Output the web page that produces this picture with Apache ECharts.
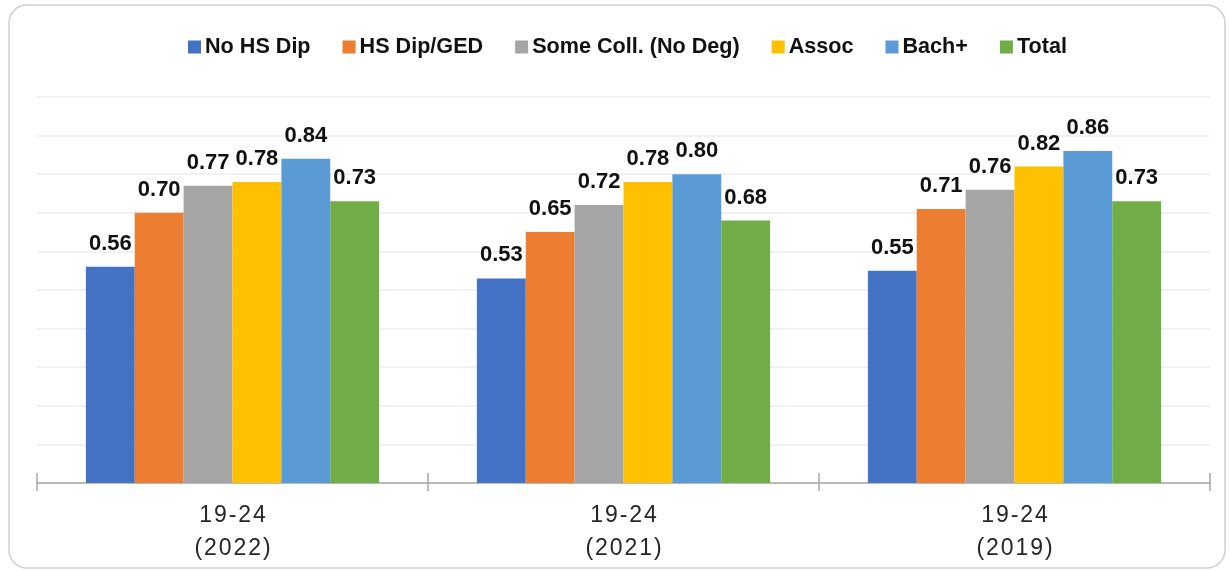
<!DOCTYPE html>
<html>
<head>
<meta charset="utf-8">
<script src="https://cdn.jsdelivr.net/npm/echarts@6/dist/echarts.min.js"></script>
<style>
html,body{margin:0;padding:0;background:#fff;}
#chart{width:1229px;height:571px;}
</style>
</head>
<body>
<div id="chart"></div>
<script>
const categories = ['19-24\n(2022)', '19-24\n(2021)', '19-24\n(2019)'];
const seriesNames = ['No HS Dip', 'HS Dip/GED', 'Some Coll. (No Deg)', 'Assoc', 'Bach+', 'Total'];
const noHsDip = [0.56, 0.53, 0.55];
const hsDipGed = [0.70, 0.65, 0.71];
const someColl = [0.77, 0.72, 0.76];
const assoc = [0.78, 0.78, 0.82];
const bachPlus = [0.84, 0.80, 0.86];
const total = [0.73, 0.68, 0.73];
const colors = ['#4472C4', '#ED7D31', '#A5A5A5', '#FFC000', '#5B9BD5', '#70AD47'];

const seriesData = [noHsDip, hsDipGed, someColl, assoc, bachPlus, total];

const chart = echarts.init(document.getElementById('chart'), null, {renderer: 'canvas'});
const spaced = v => v.split('\n').map(l => l.split('').join('\u200A')).join('\n');

const option = {
  animation: false,
  backgroundColor: '#fff',
  graphic: [{
    type: 'rect',
    shape: {x: 9, y: 5, width: 1216, height: 563, r: 18},
    style: {fill: 'none', stroke: '#cfcfcf', lineWidth: 1.5},
    silent: true,
    z: -1
  }],
  legend: {
    top: 31,
    left: 183,
    itemWidth: 13,
    itemHeight: 13,
    itemGap: 32,
    icon: 'rect',
    textStyle: {fontFamily: 'Liberation Sans, Arial, sans-serif', fontWeight: 'bold', fontSize: 21.6, color: '#111', padding: [0, 0, 0, -1]},
    data: seriesNames
  },
  grid: {left: 37, right: 19, top: 97, bottom: 88},
  xAxis: [{
    type: 'category',
    data: categories,
    axisLine: {lineStyle: {color: '#a6a6a6', width: 1.5}},
    axisTick: {show: true, length: 8, lineStyle: {color: '#a6a6a6', width: 1.5}},
    axisLabel: {
      formatter: spaced,
      fontFamily: 'Liberation Sans, Arial, sans-serif',
      fontSize: 23, color: '#262626', lineHeight: 33, margin: 16
    }
  }, {
    type: 'category',
    data: categories,
    position: 'bottom',
    axisLine: {show: false},
    axisTick: {show: true, inside: true, length: 10, lineStyle: {color: '#a6a6a6', width: 1.5}},
    axisLabel: {show: false}
  }],
  yAxis: {
    type: 'value',
    min: 0, max: 1, interval: 0.1,
    axisLabel: {show: false},
    axisLine: {show: false},
    axisTick: {show: false},
    splitLine: {lineStyle: {color: '#ececec', width: 1.5}}
  },
  series: seriesNames.map((name, i) => ({
    name: name,
    type: 'bar',
    xAxisIndex: 0,
    data: seriesData[i],
    barGap: '0%',
    barCategoryGap: '25%',
    itemStyle: {color: colors[i]},
    label: {
      show: true,
      position: 'top',
      distance: 12,
      formatter: p => p.value.toFixed(2),
      fontFamily: 'Liberation Sans, Arial, sans-serif',
      fontWeight: 'bold',
      fontSize: 22,
      color: '#111'
    }
  })),
  color: colors
};
chart.setOption(option);
</script>
</body>
</html>
